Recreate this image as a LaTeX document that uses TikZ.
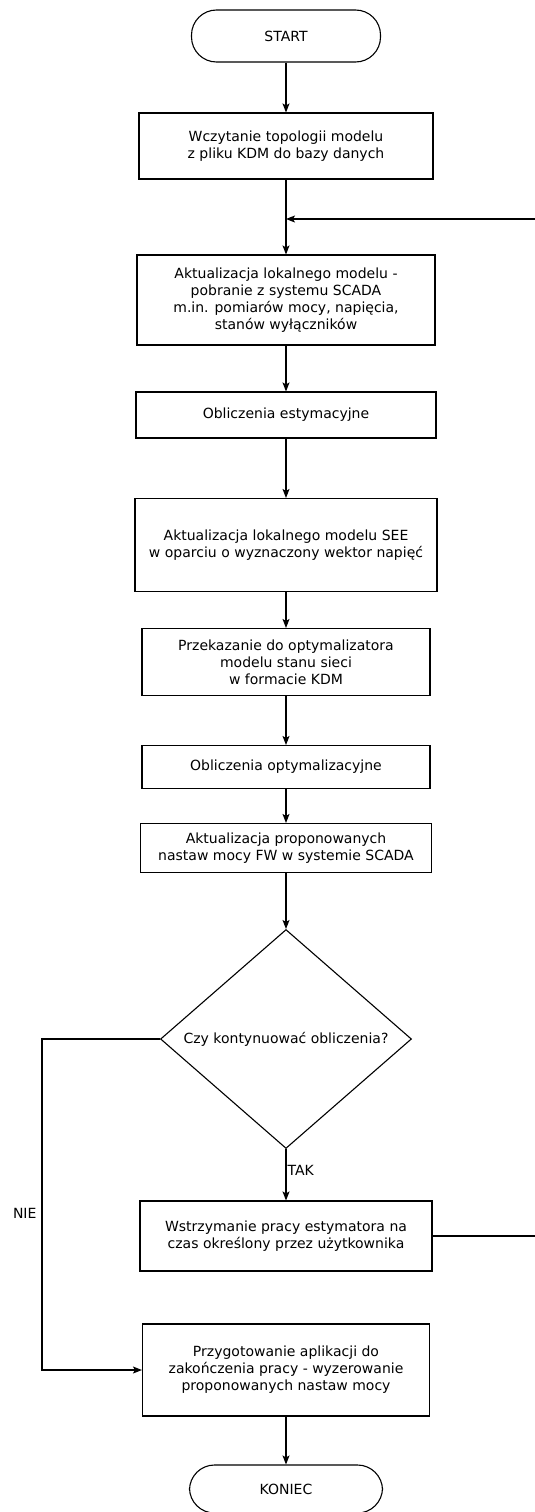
\documentclass[tikz,border=0pt]{standalone}
\usepackage{fontspec}
\setmainfont{DejaVu Sans}
\usetikzlibrary{shapes,arrows.meta,positioning}
\tikzset{
    terminal/.style={
    rectangle,rounded corners=25pt,draw=black,line width=1.1pt,align=center
    },
    block/.style={
    rectangle,draw=black,line width=1.1pt,align=center,inner sep=2pt
    },
    decision/.style={
    diamond,draw=black,line width=1.1pt,align=center,inner sep=0pt
    },
    flow/.style={
    -{Stealth[length=9pt,width=7pt,inset=2pt]},line width=1.1pt
    },
}

\begin{document}
\begin{tikzpicture}[x=1pt, y=-1pt, font=\fontsize{14}{17}\selectfont]
   \useasboundingbox (0,0) rectangle (535,1512);

   \node[terminal, minimum width=189pt, minimum height=52pt] (start) at (286,36) {START};
   \node[block, minimum width=294pt, minimum height=66pt] (load) at (286,146) {Wczytanie topologii modelu\\z pliku KDM do bazy danych};
   \node[block, minimum width=298pt, minimum height=90pt] (update) at (286,300) {Aktualizacja lokalnego modelu -\\pobranie z systemu SCADA\\m.in. pomiarów mocy, napięcia,\\stanów wyłączników};
   \node[block, minimum width=300pt, minimum height=46pt] (est) at (286,415) {Obliczenia estymacyjne};
   \node[block, minimum width=302pt, minimum height=93pt] (see) at (286,545) {Aktualizacja lokalnego modelu SEE\\w oparciu o wyznaczony wektor napięć};
   \node[block, minimum width=288pt, minimum height=67pt] (send) at (286,662) {Przekazanie do optymalizatora\\modelu stanu sieci\\w formacie KDM};
   \node[block, minimum width=288pt, minimum height=43pt] (opt) at (286,767) {Obliczenia optymalizacyjne};
   \node[block, minimum width=291pt, minimum height=49pt] (set) at (286,848) {Aktualizacja proponowanych\\nastaw mocy FW w systemie SCADA};
   \node[decision, minimum width=251pt, minimum height=209pt] (dec) at (286,1039) {Czy kontynuować obliczenia?};
   \node[block, minimum width=292pt, minimum height=70pt] (wait) at (286,1236) {Wstrzymanie pracy estymatora na\\czas określony przez użytkownika};
   \node[block, minimum width=287pt, minimum height=92pt] (reset) at (286,1370) {Przygotowanie aplikacji do\\zakończenia pracy - wyzerowanie\\proponowanych nastaw mocy};
   \node[terminal, minimum width=193pt, minimum height=48pt] (stop) at (286,1489) {KONIEC};

   \coordinate (loopin) at (286,219);
   \coordinate (loopout) at (538,1236);
   \coordinate (nieturn) at (42,1039);

  \path[flow]
    (start) edge (load)
    (load) edge (update)
    (update) edge (est)
    (est) edge (see)
    (see) edge (send)
    (send) edge (opt)
    (opt) edge (set)
    (set) edge (dec)
    (dec) edge node[right, pos=0.41, inner sep=1pt] {TAK} (wait)
    (reset) edge (stop);

  \draw[flow] (wait.east) -- (loopout) |- (loopin);
  \draw[flow] (dec.west) -- (nieturn) |- node[left, pos=0.263, inner sep=5pt] {NIE} (reset.west);
\end{tikzpicture}
\end{document}
